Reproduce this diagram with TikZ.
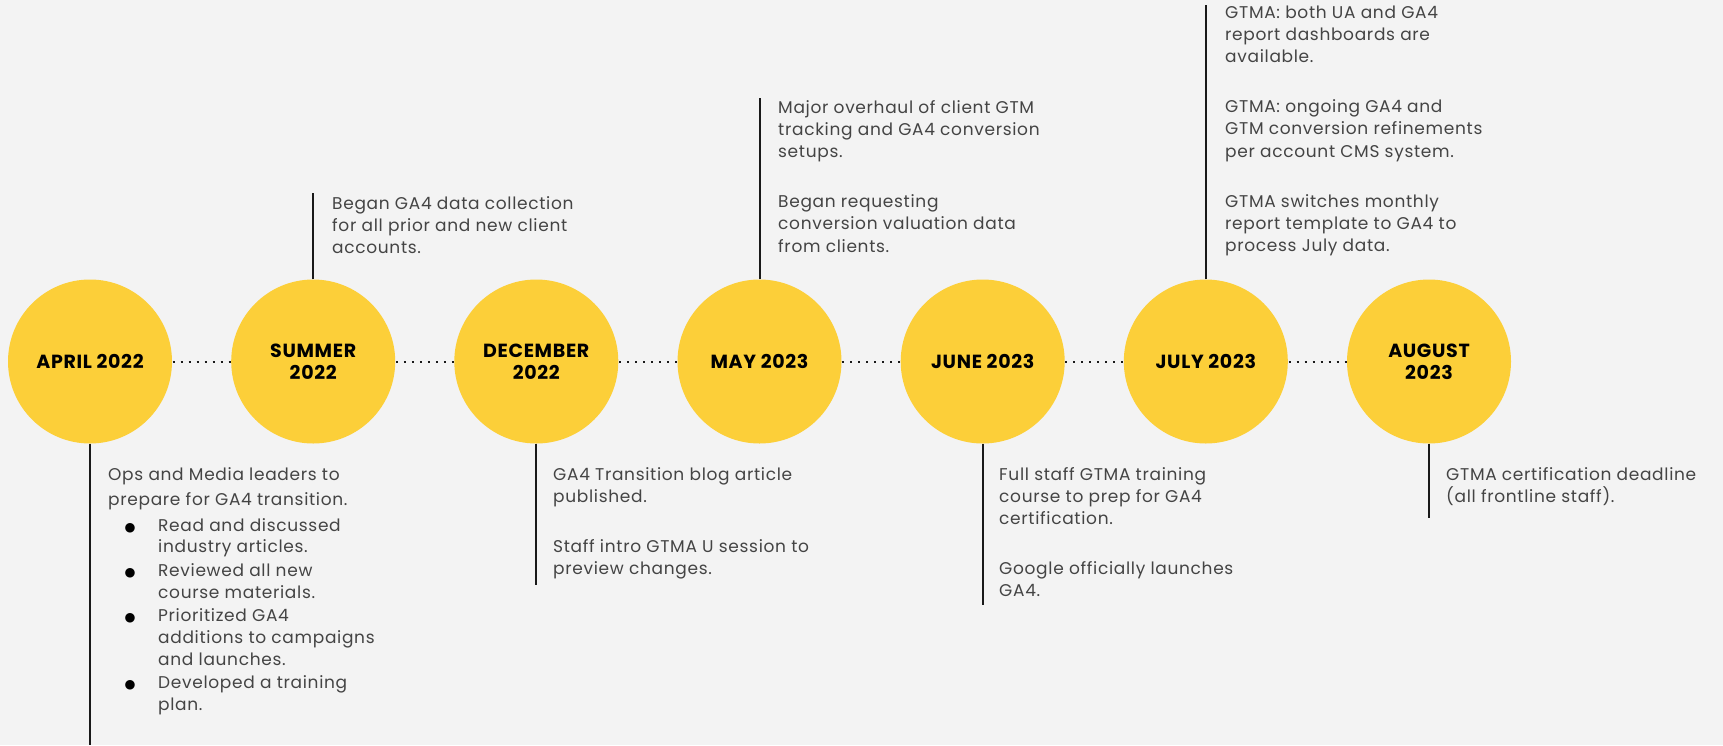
\documentclass[tikz,border=0pt]{standalone}
\usepackage{fontspec}
\setmainfont{Poppins}
\newfontfamily\symfont{DejaVu Sans}
\definecolor{pagebg}{RGB}{243,243,243}
\definecolor{mileyellow}{RGB}{252,207,57}
\definecolor{notegray}{RGB}{68,68,68}
\definecolor{stemgray}{RGB}{25,25,25}
% strut that fixes the height of a note's first line
\newcommand{\firstline}{\rule{0pt}{16pt}}
\newcommand{\bulitem}{\makebox[50pt][l]{\hspace*{16.5pt}\raisebox{0pt}{\textcolor{black}{\symfont\fontsize{12.5}{12.5}\selectfont ●}}}}
\newcommand{\bulcont}{\hspace*{50pt}}
\begin{document}
\begin{tikzpicture}[x=1pt,y=-1pt,
  milestone/.style={circle, fill=mileyellow, minimum size=164pt, inner sep=0pt,
    align=center, text=black,
    font=\bfseries\fontsize{19}{22}\selectfont\addfontfeatures{LetterSpace=3.5}},
  note/.style={anchor=north west, inner sep=0pt, align=left, text=notegray,
    font=\fontsize{17}{22.3}\selectfont\addfontfeatures{LetterSpace=4}},
  stem/.style={line width=2pt, draw=stemgray},
  link/.style={line width=2pt, draw=stemgray, dash pattern=on 2pt off 6pt}]

% page
\fill[pagebg] (0,0) rectangle (1723,745);
\useasboundingbox (0,0) rectangle (1723,745);

% milestones
\node[milestone] (apr22) at (90,361.5)    {APRIL 2022};
\node[milestone] (sum22) at (313.2,361.5) {SUMMER\\2022};
\node[milestone] (dec22) at (536.3,361.5) {DECEMBER\\2022};
\node[milestone] (may23) at (759.5,361.5) {MAY 2023};
\node[milestone] (jun23) at (982.7,361.5) {JUNE 2023};
\node[milestone] (jul23) at (1205.8,361.5){JULY 2023};
\node[milestone] (aug23) at (1429,361.5)  {AUGUST\\2023};

% dotted links between milestones
\draw[link] ([xshift=0.5pt]apr22.east) -- (sum22.west);
\draw[link] ([xshift=0.5pt]sum22.east) -- (dec22.west);
\draw[link] ([xshift=0.5pt]dec22.east) -- (may23.west);
\draw[link] ([xshift=0.5pt]may23.east) -- (jun23.west);
\draw[link] ([xshift=0.5pt]jun23.east) -- (jul23.west);
\draw[link] ([xshift=0.5pt]jul23.east) -- (aug23.west);

% stem ends
\coordinate (aprEnd) at (90,745);
\coordinate (sumEnd) at (313.2,193);
\coordinate (decEnd) at (536.3,585);
\coordinate (mayEnd) at (759.5,98);
\coordinate (junEnd) at (982.7,605);
\coordinate (julEnd) at (1205.8,5);
\coordinate (augEnd) at (1429,518);

\draw[stem] (apr22.south) -- (aprEnd);
\draw[stem] (sum22.north) -- (sumEnd);
\draw[stem] (dec22.south) -- (decEnd);
\draw[stem] (may23.north) -- (mayEnd);
\draw[stem] (jun23.south) -- (junEnd);
\draw[stem] (jul23.north) -- (julEnd);
\draw[stem] (aug23.south) -- (augEnd);

% notes (y = first baseline - 16)
\node[note, font=\fontsize{17}{21.7}\selectfont\addfontfeatures{LetterSpace=4}] (aprNote) at (108,464) {\firstline Ops and Media leaders to\\[3.3pt]
prepare for GA4 transition.\\[4.3pt]
\bulitem Read and discussed\\
\bulcont industry articles.\\[1.8pt]
\bulitem Reviewed all new\\
\bulcont course materials.\\[1.8pt]
\bulitem Prioritized GA4\\
\bulcont additions to campaigns\\
\bulcont and launches.\\[1.8pt]
\bulitem Developed a training\\
\bulcont plan.};

\node[note] (sumNote) at (332,193) {\firstline Began GA4 data collection\\
for all prior and new client\\
accounts.};

\node[note] (decNote) at (553,464) {\firstline GA4 Transition blog article\\
published.\\[27.5pt]
Staff intro GTMA U session to\\
preview changes.};

\node[note] (mayNote) at (778,97) {\firstline Major overhaul of client GTM\\
tracking and GA4 conversion\\
setups.\\[27.5pt]
Began requesting\\
conversion valuation data\\
from clients.};

\node[note] (junNote) at (999,464) {\firstline Full staff GTMA training\\
course to prep for GA4\\
certification.\\[27.5pt]
Google officially launches\\
GA4.};

\node[note] (julNote) at (1225,2) {\firstline GTMA: both UA and GA4\\
report dashboards are\\
available.\\[27.5pt]
GTMA: ongoing GA4 and\\
GTM conversion refinements\\
per account CMS system.\\[27.5pt]
GTMA switches monthly\\
report template to GA4 to\\
process July data.};

\node[note] (augNote) at (1446,464) {\firstline GTMA certification deadline\\
(all frontline staff).};
\end{tikzpicture}
\end{document}
